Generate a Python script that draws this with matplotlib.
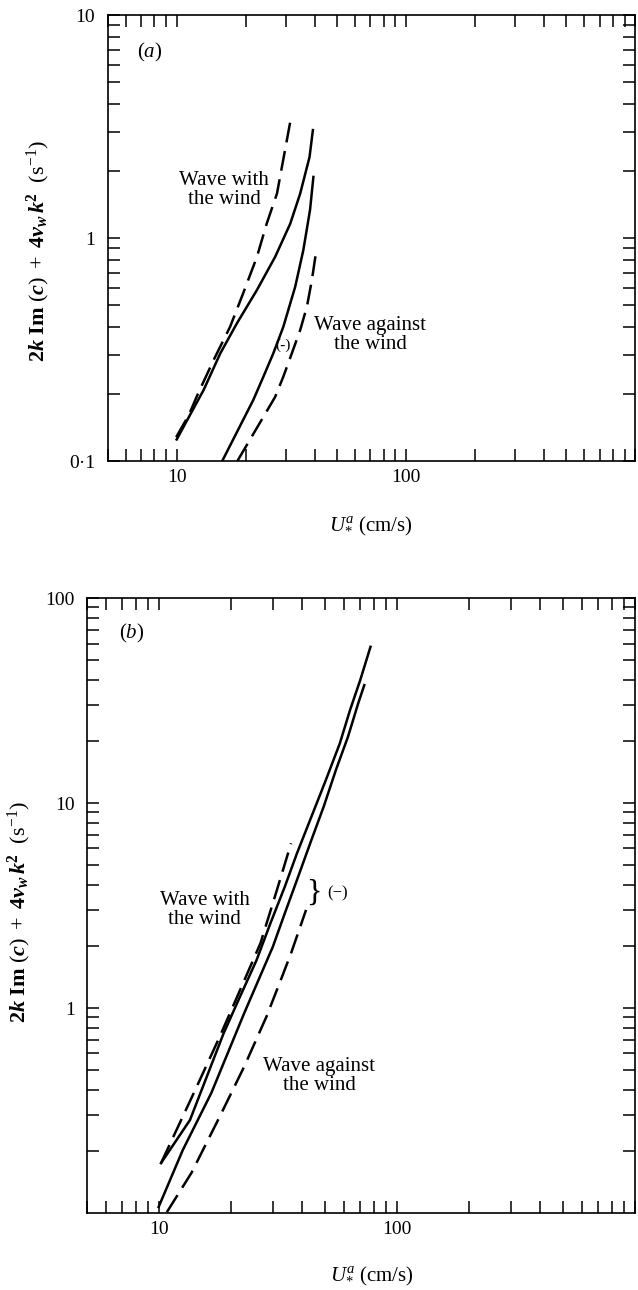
import matplotlib
matplotlib.use('Agg')
import matplotlib.pyplot as plt
from matplotlib.ticker import FixedLocator, FixedFormatter, LogLocator, NullFormatter

plt.rcParams['font.family'] = 'Liberation Serif'
plt.rcParams['mathtext.fontset'] = 'custom'
plt.rcParams['mathtext.rm'] = 'Liberation Serif'
plt.rcParams['mathtext.it'] = 'Liberation Serif:italic'
plt.rcParams['mathtext.bf'] = 'Liberation Serif:bold'
plt.rcParams['mathtext.bfit'] = 'Liberation Serif:italic:bold'

# ---- panel (a) curves: friction velocity (cm/s) vs growth rate (1/s) ----
a_with_solid_u = [10.0, 13.1, 15.5, 18.3, 22.4, 26.9, 31.3, 34.6, 38.0, 39.3]
a_with_solid_g = [0.125, 0.208, 0.304, 0.414, 0.585, 0.824, 1.16, 1.585, 2.31, 3.05]
a_with_dash_u = [9.95, 11.3, 12.4, 14.5, 17.1, 19.5, 22.4, 24.7, 27.4, 29.7, 31.5]
a_with_dash_g = [0.128, 0.161, 0.201, 0.284, 0.40, 0.565, 0.824, 1.16, 1.585, 2.48, 3.44]
a_against_solid_u = [15.8, 21.6, 23.9, 26.4, 29.2, 32.9, 35.7, 38.2, 39.5]
a_against_solid_g = [0.1, 0.188, 0.239, 0.304, 0.40, 0.605, 0.883, 1.34, 1.88]
a_against_dash_u = [18.4, 26.9, 29.2, 31.8, 34.6, 37.0, 38.9, 40.6]
a_against_dash_g = [0.1, 0.194, 0.239, 0.304, 0.387, 0.492, 0.648, 0.869]

# ---- panel (b) curves ----
b_with_solid_u = [10.2, 13.5, 18.7, 21.9, 25.7, 29.4, 33.8, 38.0, 43.7, 50.2, 57.5, 63.5, 70.1, 77.4]
b_with_solid_g = [0.175, 0.284, 0.753, 1.135, 1.71, 2.59, 3.91, 5.68, 8.57, 12.9, 19.5, 28.4, 39.8, 57.8]
b_with_dash_u = [10.2, 14.2, 18.0, 21.9, 26.7, 31.3, 35.9]
b_with_dash_g = [0.175, 0.398, 0.724, 1.22, 2.07, 3.76, 6.36]
b_against_solid_u = [9.97, 12.6, 16.6, 22.8, 26.2, 30.1, 33.8, 38.0, 43.7, 49.2, 55.4, 62.3, 68.7, 72.9]
b_against_solid_g = [0.107, 0.203, 0.385, 0.942, 1.37, 1.99, 2.90, 4.21, 6.6, 9.59, 14.5, 21.1, 30.6, 37.6]
b_against_dash_u = [10.8, 13.7, 18.0, 22.8, 28.3, 32.5, 35.9, 41.5]
b_against_dash_g = [0.101, 0.157, 0.295, 0.517, 0.908, 1.37, 1.85, 3.01]

x_major = [10, 100, 1000]
x_labels = ['10', '100', '']
a_y_major = [0.1, 1, 10]
a_y_labels = ['0\u00b71', '1', '10']
b_y_major = [1, 10, 100]
b_y_labels = ['1', '10', '100']

ylabel = (r'$\mathbf{2}\mathbfit{k}\ \mathbf{Im}\ (\mathbfit{c})\ +\ \mathbf{4}'
          r'\mathbfit{\nu}_{\mathbfit{w}}\,\mathbfit{k}^{\mathbf{2}}$  (s$^{-1}$)')
xlabel = r'$U_{*}^{a}$ (cm/s)'

fig = plt.figure(figsize=(6.38, 12.9), dpi=100)
ax1 = fig.add_axes([0.1688, 0.6426, 0.8265, 0.3457])
ax2 = fig.add_axes([0.1368, 0.0597, 0.8585, 0.4767])

dash = (8, 3.5)
lw = 1.8


def style(ax, ymaj, ylabs, ylim):
    ax.set_xscale('log')
    ax.set_yscale('log')
    ax.set_xlim(5, 1000)
    ax.set_ylim(*ylim)
    ax.xaxis.set_major_locator(FixedLocator(x_major))
    ax.xaxis.set_major_formatter(FixedFormatter(x_labels))
    ax.xaxis.set_minor_locator(LogLocator(base=10, subs=range(2, 10)))
    ax.xaxis.set_minor_formatter(NullFormatter())
    ax.yaxis.set_major_locator(FixedLocator(ymaj))
    ax.yaxis.set_major_formatter(FixedFormatter(ylabs))
    ax.yaxis.set_minor_locator(LogLocator(base=10, subs=range(2, 10)))
    ax.yaxis.set_minor_formatter(NullFormatter())
    ax.tick_params(which='both', direction='in', top=True, right=True,
                   length=8.5, width=1.1, labelsize=14)
    ax.tick_params(axis='y', which='both', pad=9)
    ax.tick_params(axis='x', which='both', pad=6)
    for s in ax.spines.values():
        s.set_linewidth(1.2)


# (a)
ax1.plot(a_with_solid_u, a_with_solid_g, 'k-', lw=lw)
ax1.plot(a_with_dash_u, a_with_dash_g, 'k--', lw=lw, dashes=dash)
ax1.plot(a_against_solid_u, a_against_solid_g, 'k-', lw=lw)
ax1.plot(a_against_dash_u, a_against_dash_g, 'k--', lw=lw, dashes=dash)
style(ax1, a_y_major, a_y_labels, (0.1, 10))
ax1.text(7.65, 6.82, r'($a$)', fontsize=15, ha='center', va='center')
ax1.text(16.1, 1.64, 'Wave with\nthe wind', fontsize=15, ha='center', va='center',
         linespacing=1.0)
ax1.text(69.9, 0.367, 'Wave against\nthe wind', fontsize=15, ha='center', va='center',
         linespacing=1.0)
ax1.text(29.1, 0.331, '(-)', fontsize=11, ha='center', va='center')
ax1.set_ylabel(ylabel, fontsize=16)
ax1.yaxis.set_label_coords(-0.105, 0.47)
ax1.set_xlabel(xlabel, fontsize=15)
ax1.xaxis.set_label_coords(0.5, -0.12)

# (b)
ax2.plot(b_with_solid_u, b_with_solid_g, 'k-', lw=lw)
ax2.plot(b_with_dash_u, b_with_dash_g, 'k--', lw=lw, dashes=dash)
ax2.plot(b_against_solid_u, b_against_solid_g, 'k-', lw=lw)
ax2.plot(b_against_dash_u, b_against_dash_g, 'k--', lw=lw, dashes=dash)
style(ax2, b_y_major, b_y_labels, (0.1, 100))
ax2.text(7.71, 67.4, r'($b$)', fontsize=15, ha='center', va='center')
ax2.text(15.6, 3.0, 'Wave with\nthe wind', fontsize=15, ha='center', va='center',
         linespacing=1.0)
ax2.text(47.2, 0.466, 'Wave against\nthe wind', fontsize=15, ha='center', va='center',
         linespacing=1.0)
ax2.text(44.6, 3.64, '}', fontsize=23, ha='center', va='center')
ax2.text(51.0, 3.64, '(\u2212)', fontsize=12, ha='left', va='center')
ax2.set_ylabel(ylabel, fontsize=16)
ax2.yaxis.set_label_coords(-0.1, 0.49)
ax2.set_xlabel(xlabel, fontsize=15)
ax2.xaxis.set_label_coords(0.52, -0.085)

fig.savefig('out.png', dpi=100)
